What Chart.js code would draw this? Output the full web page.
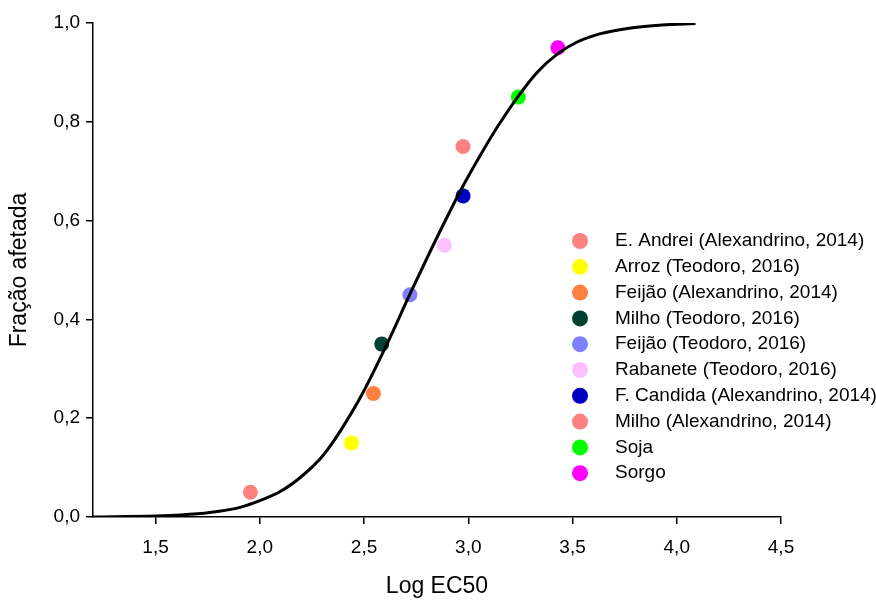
<!DOCTYPE html>
<html><head><meta charset="utf-8">
<script src="https://cdn.jsdelivr.net/npm/chart.js@4"></script>
<style>html,body{margin:0;padding:0;background:#fff}#wrap{width:876px;height:600px}</style>
</head><body><div id="wrap"><canvas id="c" width="876" height="600"></canvas></div>
<script>
const seriesNames = [
  'E. Andrei (Alexandrino, 2014)',
  'Arroz (Teodoro, 2016)',
  'Feijão (Alexandrino, 2014)',
  'Milho (Teodoro, 2016)',
  'Feijão (Teodoro, 2016)',
  'Rabanete (Teodoro, 2016)',
  'F. Candida (Alexandrino, 2014)',
  'Milho (Alexandrino, 2014)',
  'Soja',
  'Sorgo'
];
const seriesColors = ['#FF8080','#FFFF00','#FF8040','#004030','#8080FF','#FFC0FF','#0000C0','#FF8080','#00FF00','#FF00FF'];
const logEC50 = [1.955, 2.44, 2.545, 2.585, 2.72, 2.885, 2.975, 2.975, 3.24, 3.43];
const fracaoAfetada = [0.05, 0.15, 0.25, 0.35, 0.45, 0.55, 0.65, 0.75, 0.85, 0.95];
const curveX = [1.20, 1.50, 1.62, 1.76, 1.91, 2.00, 2.10, 2.20, 2.29, 2.34, 2.41, 2.49, 2.61, 2.72, 2.82, 2.91, 2.985, 3.06, 3.14, 3.24, 3.33, 3.43, 3.52, 3.63, 3.78, 3.93, 4.09];
const curveY = [0.000, 0.002, 0.004, 0.009, 0.020, 0.033, 0.052, 0.082, 0.118, 0.145, 0.190, 0.248, 0.350, 0.451, 0.540, 0.617, 0.678, 0.734, 0.790, 0.852, 0.900, 0.938, 0.961, 0.978, 0.990, 0.996, 0.999];
const xTicks = [1.5, 2.0, 2.5, 3.0, 3.5, 4.0, 4.5];
const yTicks = [0.0, 0.2, 0.4, 0.6, 0.8, 1.0];

const FONT = "'Liberation Sans', Arial, sans-serif";
const fmt = v => Number(v).toFixed(1).replace('.', ',');

const datasets = [{
  type: 'line',
  label: 'curve',
  data: curveX.map((x, i) => ({x, y: curveY[i]})),
  borderColor: '#000',
  borderWidth: 3,
  pointRadius: 0,
  fill: false,
  cubicInterpolationMode: 'monotone',
  order: 0
}];
seriesNames.forEach((name, i) => {
  datasets.push({
    type: 'scatter',
    label: name,
    data: [{x: logEC50[i], y: fracaoAfetada[i]}],
    backgroundColor: seriesColors[i],
    borderWidth: 0,
    pointRadius: 7.5,
    pointHoverRadius: 7.5,
    order: 1
  });
});

const legendPlugin = {
  id: 'insideLegend',
  afterDraw(chart) {
    const ctx = chart.ctx;
    ctx.save();
    ctx.font = '19px ' + FONT;
    ctx.textBaseline = 'middle';
    ctx.textAlign = 'left';
    seriesNames.forEach((name, i) => {
      const y = 241 + i * 25.8;
      ctx.beginPath();
      ctx.arc(580, y, 8, 0, Math.PI * 2);
      ctx.fillStyle = seriesColors[i];
      ctx.fill();
      ctx.fillStyle = '#000';
      ctx.fillText(name, 615, y);
    });
    ctx.restore();
  }
};

new Chart(document.getElementById('c'), {
  type: 'scatter',
  data: {datasets},
  options: {
    responsive: false,
    animation: false,
    devicePixelRatio: 1,
    layout: {padding: {left: 0, top: 23, right: 95, bottom: 0}},
    plugins: {legend: {display: false}, tooltip: {enabled: false}},
    events: [],
    scales: {
      x: {
        type: 'linear',
        min: 1.2, max: 4.5,
        afterBuildTicks: s => { s.ticks = xTicks.map(v => ({value: v})); },
        afterFit: s => { s.height = 83; },
        ticks: {callback: v => fmt(v), font: {family: FONT, size: 19}, color: '#000', padding: 12, maxRotation: 0},
        grid: {display: true, drawOnChartArea: false, drawTicks: true, tickLength: 7, color: '#000', lineWidth: 1.5},
        border: {display: true, color: '#000', width: 1.5},
        title: {display: true, text: 'Log EC50', font: {family: FONT, size: 23}, color: '#000', padding: {top: 0, bottom: 0}}
      },
      y: {
        type: 'linear',
        min: 0, max: 1,
        afterBuildTicks: s => { s.ticks = yTicks.map(v => ({value: v})); },
        afterFit: s => { s.width = 93; },
        ticks: {callback: v => fmt(v), font: {family: FONT, size: 19}, color: '#000', padding: 6},
        grid: {display: true, drawOnChartArea: false, drawTicks: true, tickLength: 7, color: '#000', lineWidth: 1.5},
        border: {display: true, color: '#000', width: 1.5},
        title: {display: true, text: 'Fração afetada', font: {family: FONT, size: 23}, color: '#000', padding: {top: 6, bottom: 0}}
      }
    }
  },
  plugins: [legendPlugin]
});
</script></body></html>
